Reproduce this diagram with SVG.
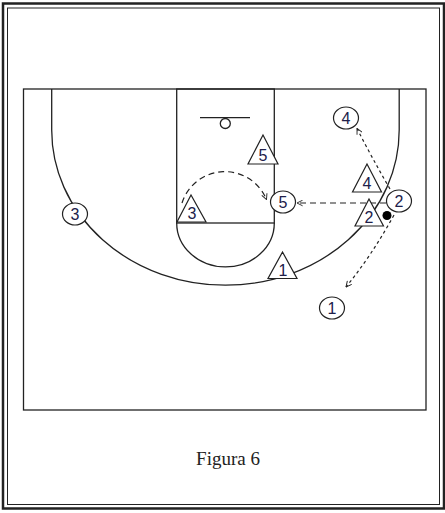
<svg xmlns="http://www.w3.org/2000/svg" width="445" height="513" viewBox="0 0 445 513">
<style>
.ln{fill:none;stroke:#222;stroke-width:1.3}
.pl{fill:#fff;stroke:#222;stroke-width:1.2}
.dg{font-family:"Liberation Sans",Arial,sans-serif;font-size:16px;fill:#20204a;text-anchor:middle}
.dash{fill:none;stroke:#222;stroke-width:1.2;stroke-dasharray:6 4}
.dot{fill:none;stroke:#222;stroke-width:1.2;stroke-dasharray:3 3}
</style>
<defs>
<marker id="ah" viewBox="0 0 10 10" refX="9" refY="5" markerWidth="7" markerHeight="7" orient="auto" markerUnits="userSpaceOnUse">
<path d="M1,1 L9,5 L1,9" fill="none" stroke="#222" stroke-width="1.3"/>
</marker>
</defs>
<rect width="445" height="513" fill="#fff"/>
<g id="frame">
<rect x="3" y="3.5" width="441" height="505" fill="none" stroke="#222" stroke-width="2.5"/>
<rect x="7.5" y="8" width="432" height="496.5" fill="none" stroke="#222" stroke-width="1"/>
</g>
<g id="court">
<rect x="23.5" y="89" width="402.5" height="321" class="ln"/>
<path class="ln" d="M51.7,89 L51.7,130 A173.5,155 0 0 0 399.2,130 L399.2,89"/>
<rect x="176.7" y="89" width="97.6" height="134" class="ln"/>
<path class="ln" d="M176.7,223 A48.8,44 0 0 0 274.3,223"/>
<line x1="200" y1="117.7" x2="250" y2="117.7" class="ln"/>
<circle cx="225.3" cy="123.5" r="5" class="ln"/>
</g>
<g id="connectors">
<path class="dash" d="M182,203 A45,45 0 0 1 266.5,199.5" marker-end="url(#ah)"/>
<line class="dash" x1="386" y1="203" x2="297" y2="203" marker-end="url(#ah)"/>
<path class="dot" d="M390,189 Q372,158 357,128.5" marker-end="url(#ah)"/>
<path class="dot" d="M394,215 Q372,255 346,287" marker-end="url(#ah)"/>
</g>
<g id="t5"><polygon class="pl" points="263,135 248,164 278,164"/><text class="dg" x="263" y="161">5</text></g>
<g id="t3"><polygon class="pl" points="191,195 177,222 206,222"/><text class="dg" x="192" y="219">3</text></g>
<g id="t1"><polygon class="pl" points="282.5,252 268,278.5 297,278.5"/><text class="dg" x="283" y="275.5">1</text></g>
<g id="t4"><polygon class="pl" points="367,164 352.5,192 381.5,192"/><text class="dg" x="367" y="189">4</text></g>
<g id="t2"><polygon class="pl" points="369,199 355,226 383.5,226"/><text class="dg" x="369" y="223">2</text></g>
<g id="c4"><ellipse class="pl" cx="346" cy="118" rx="12.5" ry="11"/><text class="dg" x="346" y="123.8">4</text></g>
<g id="c2"><ellipse class="pl" cx="399" cy="201" rx="12.5" ry="11"/><text class="dg" x="399" y="206.8">2</text></g>
<g id="c5"><ellipse class="pl" cx="283" cy="202" rx="12.5" ry="11"/><text class="dg" x="283" y="207.8">5</text></g>
<g id="c3"><ellipse class="pl" cx="75" cy="214" rx="12.5" ry="11"/><text class="dg" x="75" y="219.8">3</text></g>
<g id="c1"><ellipse class="pl" cx="332" cy="308" rx="12.5" ry="11"/><text class="dg" x="332" y="313.8">1</text></g>
<g id="ball"><circle cx="387" cy="215.5" r="4.5" fill="#000"/></g>
<text x="228" y="465" font-family="'Liberation Serif','Times New Roman',serif" font-size="19" fill="#222" text-anchor="middle">Figura 6</text>
</svg>
